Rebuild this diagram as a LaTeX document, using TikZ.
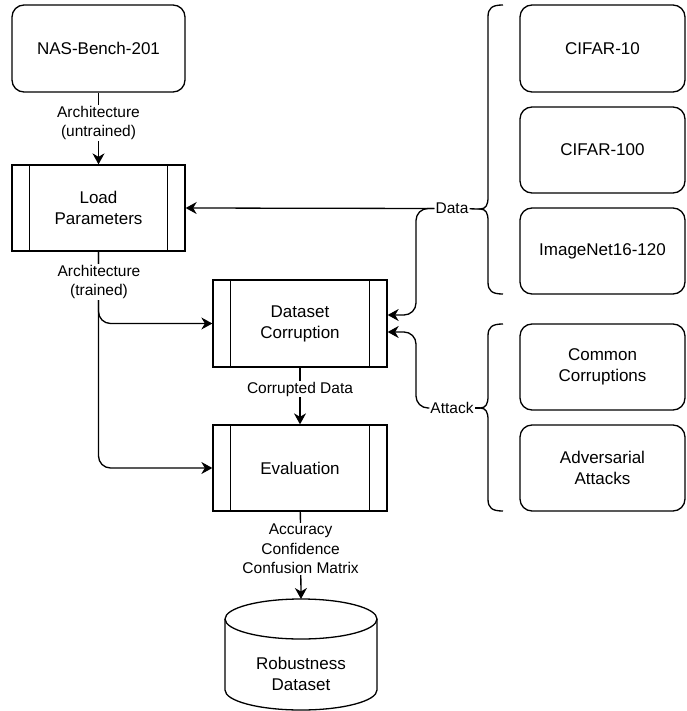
\documentclass[tikz,border=0pt]{standalone}
\usepackage{fontspec}
\setmainfont{Liberation Sans}
\usetikzlibrary{arrows.meta}
\begin{document}
\begin{tikzpicture}[x=1pt,y=-1pt,line width=1.3pt,
  txt/.style={align=center,font=\fontsize{17}{21}\selectfont,inner sep=0pt},
  rbox/.style={txt,draw,rounded corners=12pt},
  proc/.style={txt,draw},
  lbl/.style={fill=white,inner sep=1pt,align=center,font=\fontsize{15.5}{19.5}\selectfont},
  arr/.style={-{Stealth[length=11pt,width=12pt,inset=3.5pt]}},
  conn/.style={arr,rounded corners=12pt}
]
\useasboundingbox (0,0) rectangle (686,711);

% left column
\node[rbox,minimum width=173pt,minimum height=87pt] (nas) at (98.5,48.5) {NAS-Bench-201};
\node[proc,minimum width=173pt,minimum height=86pt] (lp) at (98.5,208) {Load\\Parameters};
\node[proc,minimum width=174pt,minimum height=87pt] (dc) at (300,323.5) {Dataset\\Corruption};
\node[proc,minimum width=174pt,minimum height=86pt] (ev) at (300,468) {Evaluation};
\foreach \n in {lp,dc,ev}{
  \draw ([xshift=18pt]\n.north west) -- ([xshift=18pt]\n.south west);
  \draw ([xshift=-18pt]\n.north east) -- ([xshift=-18pt]\n.south east);
}

% cylinder
\draw[fill=white] (225,619) -- (225,690) arc[start angle=180,end angle=360,x radius=76pt,y radius=20pt] -- (377,619);
\draw (301,619) ellipse[x radius=76pt,y radius=20pt];
\coordinate (rdtop) at (301,599);
\node[txt] (rd) at (301,673.5) {Robustness\\Dataset};

% right column
\node[rbox,minimum width=165pt,minimum height=87pt] (c10) at (602.5,48.5) {CIFAR-10};
\node[rbox,minimum width=165pt,minimum height=86pt] (c100) at (602.5,150) {CIFAR-100};
\node[rbox,minimum width=165pt,minimum height=86pt] (inet) at (602.5,251) {ImageNet16-120};
\node[rbox,minimum width=165pt,minimum height=86pt] (cc) at (602.5,367) {Common\\Corruptions};
\node[rbox,minimum width=165pt,minimum height=86pt] (aa) at (602.5,468) {Adversarial\\Attacks};

% braces
\draw (503,5) .. controls (492,5) and (488,8) .. (488,17) -- (488,197)
  .. controls (488,205) and (486,209) .. (480,209)
  .. controls (486,209) and (488,213) .. (488,221) -- (488,282)
  .. controls (488,291) and (492,294) .. (503,294);
\coordinate (datatip) at (480,209);
\draw (503,324) .. controls (492,324) and (488,327) .. (488,336) -- (488,396)
  .. controls (488,404) and (486,408) .. (480,408)
  .. controls (486,408) and (488,412) .. (488,420) -- (488,499)
  .. controls (488,508) and (492,511) .. (503,511);
\coordinate (attacktip) at (480,408);

% connectors
\draw[arr] (nas) -- node[lbl,pos=0.42] {Architecture\\(untrained)} (lp);
\draw[conn] (lp.south) |- (ev.west);
\draw[conn] (lp.south) |- (dc.west);
\node[lbl] (archtr) at (99,282) {Architecture\\(trained)};
\draw[arr] (dc) -- node[lbl,pos=0.38] {Corrupted Data} (ev);
\draw[arr] (ev) -- node[lbl,pos=0.43] {Accuracy\\Confidence\\Confusion Matrix} (rdtop);

\node[lbl,inner sep=0.5pt] (datal) at (452,208.5) {Data};
\node[lbl,inner sep=0.5pt] (attackl) at (452,408) {Attack};
\draw (datatip) -- (datal);
\draw (attacktip) -- (attackl);
\draw[arr] (datal.west) -- (lp.east);
\draw[conn] (datal.west) -- (416,208.5) -- (416,315) -- ([yshift=8.5pt]dc.east);
\draw[conn] (attackl.west) -- (416,408) -- (416,332) -- ([yshift=-8.5pt]dc.east);
\end{tikzpicture}
\end{document}
